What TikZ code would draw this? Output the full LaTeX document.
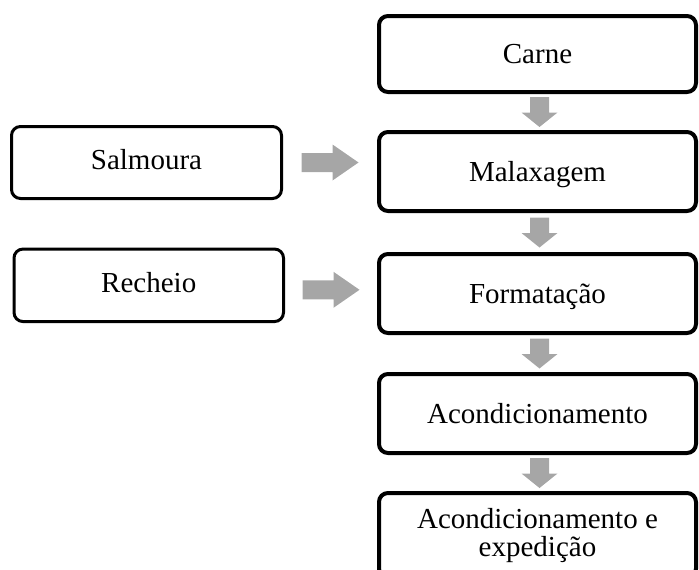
\documentclass[tikz,border=0pt]{standalone}
\usepackage{fontspec}
\setmainfont{Liberation Serif}
\usetikzlibrary{calc}
\definecolor{arrowgray}{HTML}{A6A6A6}
\tikzset{
  boxfont/.style={font=\fontsize{29}{27}\selectfont},
  rbox/.style={draw, line width=4pt, rounded corners=9pt, inner sep=0pt,
    minimum width=317pt, boxfont, text height=19pt, text depth=0pt},
  rboxtwo/.style={draw, line width=4pt, rounded corners=9pt, inner sep=0pt,
    minimum width=317pt, boxfont, align=center},
  lbox/.style={draw, line width=3pt, rounded corners=9pt, inner sep=0pt,
    boxfont, text height=19pt, text depth=5pt},
  downarr/.pic={\fill[arrowgray] (-9.5,15) -- (9.5,15) -- (9.5,-0.5) -- (18,-0.5)
     -- (0,-15) -- (-18,-0.5) -- (-9.5,-0.5) -- cycle;},
  rightarr/.pic={\fill[arrowgray] (-28.5,9.5) -- (2.5,9.5) -- (2.5,18) -- (28.5,0)
     -- (2.5,-18) -- (2.5,-9.5) -- (-28.5,-9.5) -- cycle;},
}
\begin{document}
\begin{tikzpicture}[x=1pt,y=1pt]
\useasboundingbox (0,0) rectangle (699,-570);
\clip (0,0) rectangle (699,-570);
% right column
\node[rbox, minimum height=76pt] (carne) at (537.5,-54) {Carne};
\node[rbox, minimum height=79pt] (malax) at (537.5,-171.5) {Malaxagem};
\node[rbox, minimum height=79pt] (format) at (537.5,-293.5) {Formatação};
\node[rbox, minimum height=79pt] (acond) at (537.5,-413.5) {Acondicionamento};
\node[rboxtwo, minimum height=84.6pt] (exped) at (537.5,-535.3) {Acondicionamento e\\[1pt]expedição};
% left column
\node[lbox, minimum width=270pt, minimum height=72pt] (salm) at (146.5,-162.5) {Salmoura};
\node[lbox, minimum width=269.5pt, minimum height=72.5pt] (rech) at (148.75,-285.3) {Recheio};
% vertical block arrows
\pic at ($($(carne.south)!0.5!(malax.north)$)+(2,0)$) {downarr};
\pic at ($($(malax.south)!0.5!(format.north)$)+(2,0)$) {downarr};
\pic at ($($(format.south)!0.5!(acond.north)$)+(2,0)$) {downarr};
\pic at ($($(acond.south)!0.5!(exped.north)$)+(2,0)$) {downarr};
% horizontal block arrows
\coordinate (h1) at ($(salm.east)!0.5!(malax.west)$);
\coordinate (h2) at ($(rech.east)!0.5!(format.west)$);
\pic at (h1 |- salm.east) {rightarr};
\pic at ([yshift=-4.5pt]h2 |- rech.east) {rightarr};
\end{tikzpicture}
\end{document}
